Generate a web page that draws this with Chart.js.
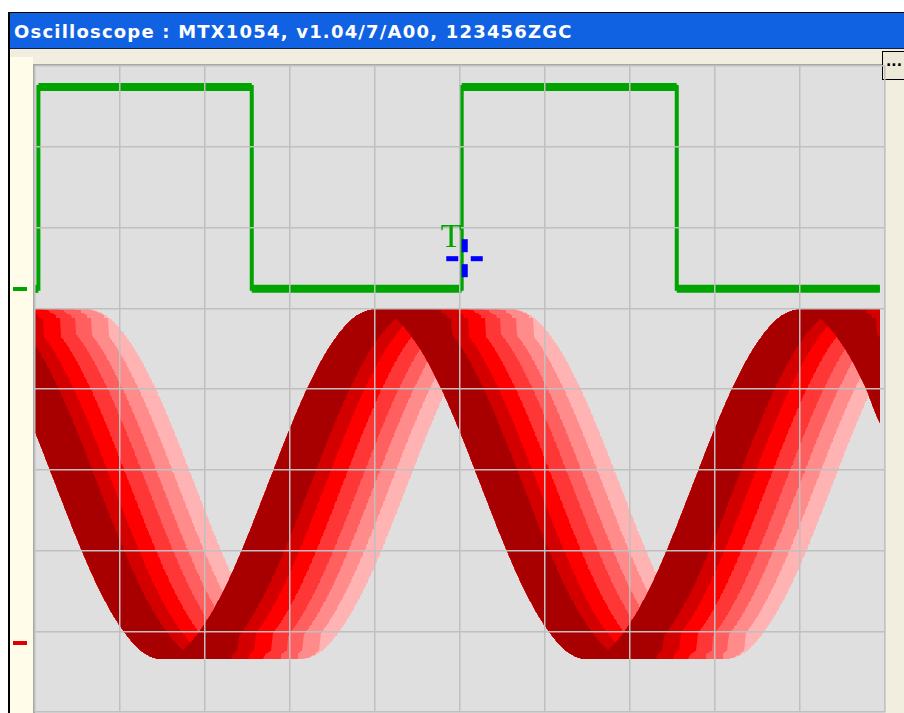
<!DOCTYPE html>
<html>
<head>
<meta charset="utf-8">
<script src="https://cdn.jsdelivr.net/npm/chart.js@4/dist/chart.umd.min.js"></script>
<style>
  body{margin:0;background:#fff;width:904px;height:713px;overflow:hidden;position:relative;}
  .abs{position:absolute;box-sizing:border-box;}
  #frame{left:8px;top:12px;width:896px;height:701px;background:#f1eedf;border-left:2px solid #000;border-top:1px solid #000;}
  #title{left:10px;top:13px;width:894px;height:36px;background:#1162e3;border-bottom:1px solid #102040;
    color:#fff;font:bold 18px "DejaVu Sans",sans-serif;letter-spacing:1.2px;line-height:37px;padding-left:4px;white-space:nowrap;}
  #strip{left:10px;top:57px;width:23px;height:656px;background:#fffcea;}
  #plot{left:33px;top:64px;width:853px;height:649px;background:#dfdfdf;border-top:2px solid #a6a6a6;border-left:2px solid #a6a6a6;}
  #btn{left:882px;top:51px;width:24px;height:29px;background:#ece9d8;border:1px solid #000;
    font:bold 14px "DejaVu Sans",sans-serif;line-height:18px;padding-left:3px;color:#000;}
  canvas{position:absolute;left:0;top:0;}
</style>
</head>
<body>
<div class="abs" id="frame"></div>
<div class="abs" id="title">Oscilloscope : MTX1054, v1.04/7/A00, 123456ZGC</div>
<div class="abs" id="strip"></div>
<div class="abs" id="plot"></div>
<div class="abs" id="btn">...</div>
<canvas id="scope" width="904" height="713"></canvas>
<script>
// ---------- data (time in divisions, volts in divisions) ----------
// CH2 sine, read every 0.25 div starting at t = -2
const sineStart = -2;
const sineStep = 0.25;
const sineVolts = [
  -0.51, 0.09, 0.56, 0.87, 0.98, 0.87, 0.56, 0.09,
  -0.51, -1.18, -1.85, -2.45, -2.92, -3.23, -3.34, -3.23,
  -2.92, -2.45, -1.85, -1.18, -0.51, 0.09, 0.56, 0.87,
  0.98, 0.87, 0.56, 0.09, -0.51, -1.18, -1.85, -2.45,
  -2.92, -3.23, -3.34, -3.23, -2.92, -2.45, -1.85, -1.18,
  -0.51, 0.09, 0.56, 0.87, 0.98, 0.87, 0.56, 0.09, -0.51
];
const sineEnd = 9.94;
// persistence: jitter range of each colour layer (div), newest/densest first
const layerShifts = [0, 0.49, 0.66, 0.87, 1.06, 1.24, 1.43, 1.62];
const layerWeights = [4096, 1024, 256, 64, 16, 4, 1];
const layerColors = ['#a80000', '#d40000', '#ff0000', '#ff3636', '#ff5f5f', '#ff8b8b', '#ffb3b3'];
const levelFactor = 2.5;   // hits of the next layer needed to reach a colour level

// CH1 square wave
const squareT = [0, 0.04, 0.04, 2.55, 2.55, 5.02, 5.02, 7.55, 7.55, 9.94];
const squareV = [1.24, 1.24, 3.74, 3.74, 1.24, 1.24, 3.74, 3.74, 1.24, 1.24];

// trigger + channel reference markers
const trigT = 5.05, trigV = 1.62;
const chRefs = [1.24, -3.15];
const chColors = ['#00a400', '#e00000'];

// ---------- helpers ----------
function sineAt(t){
  const u = (t - sineStart) / sineStep;
  const i = Math.floor(u); const s = u - i;
  const v = k => sineVolts[Math.max(0, Math.min(sineVolts.length-1, k))];
  const p0=v(i-1), p1=v(i), p2=v(i+1), p3=v(i+2);
  return 0.5*((2*p1)+(-p0+p2)*s+(2*p0-5*p1+4*p2-p3)*s*s+(-p0+3*p1-3*p2+p3)*s*s*s);
}

// accumulate hits of every jittered sweep on a screen-resolution grid
const colW = 1/85, rowH = 8/646;
const nCols = Math.round(sineEnd/colW) + 1, nRows = 646;
const hits = new Float32Array(nCols*nRows);
const nSweeps = Math.round(layerShifts[layerShifts.length-1]/colW);
for(let m = 0; m <= nSweeps; m++){
  const s = m*colW;
  let k = 0; while(k < layerWeights.length-1 && s > layerShifts[k+1] + 1e-9) k++;
  const w = layerWeights[k];
  for(let c = 0; c < nCols; c++){
    const x = c*colW;
    const a = sineAt(x - s - colW/2), b = sineAt(x - s + colW/2);
    const r0 = Math.floor((Math.min(a,b)+4)/rowH), r1 = Math.floor((Math.max(a,b)+4)/rowH);
    for(let r = Math.max(0,r0); r <= Math.min(nRows-1,r1); r++) hits[c*nRows+r] += w;
  }
}
function layerEnvelope(k){
  const thr = k < layerWeights.length-1 ? layerWeights[k+1]*levelFactor : layerWeights[k]*0.5;
  const up = [], lo = [];
  for(let c = 0; c < nCols; c++){
    let mn = -1, mx = -1;
    for(let r = 0; r < nRows; r++){
      if(hits[c*nRows+r] >= thr){ if(mn < 0) mn = r; mx = r; }
    }
    const x = +(c*colW).toFixed(4);
    up.push({x, y: mn < 0 ? null : -4 + (mx+1)*rowH});
    lo.push({x, y: mn < 0 ? null : -4 + mn*rowH});
  }
  return {up, lo};
}

const green = '#00a400';
const squarePts = squareT.map((t,i) => ({x: t, y: squareV[i]}));

const datasets = [
  { data: squarePts, borderColor: green, borderWidth: 4, pointRadius: 0, tension: 0, fill: false,
    borderJoinStyle: 'miter' },
  { data: squarePts, borderColor: green, borderWidth: 8, pointRadius: 0, tension: 0, fill: false,
    segment: { borderColor: c => c.p0.parsed.x === c.p1.parsed.x ? 'rgba(0,0,0,0)' : green } }
];
layerColors.forEach((col, k) => {
  const env = layerEnvelope(k);
  datasets.push({ data: env.up, borderWidth: 0, borderColor: 'rgba(0,0,0,0)', pointRadius: 0, fill: false });
  datasets.push({ data: env.lo, borderWidth: 0, borderColor: 'rgba(0,0,0,0)', pointRadius: 0,
    fill: '-1', backgroundColor: col });
});

const scopeDecor = {
  id: 'scopeDecor',
  afterDraw(chart){
    const {ctx, scales:{x, y}} = chart;
    ctx.save();
    chRefs.forEach((v, i) => {
      ctx.fillStyle = chColors[i];
      ctx.fillRect(13, Math.round(y.getPixelForValue(v)) - 2, 14, 4);
    });
    const cx = x.getPixelForValue(trigT), cy = y.getPixelForValue(trigV);
    ctx.fillStyle = '#0000ff';
    ctx.fillRect(cx - 2.5, cy - 19, 6, 13);
    ctx.fillRect(cx - 2.5, cy + 6, 6, 13);
    ctx.fillRect(cx - 18, cy - 2, 12, 5);
    ctx.fillRect(cx + 6.5, cy - 2, 12, 5);
    ctx.fillStyle = green;
    ctx.font = '34px "Liberation Serif", serif';
    ctx.textAlign = 'center';
    ctx.textBaseline = 'alphabetic';
    ctx.fillText('T', cx - 13, cy - 11);
    ctx.restore();
  }
};

const gridOpts = { color: '#c0c0c0', lineWidth: 1.5, drawTicks: false, z: 1 };

new Chart(document.getElementById('scope'), {
  type: 'line',
  data: { datasets },
  options: {
    responsive: false,
    animation: false,
    events: [],
    parsing: false,
    spanGaps: false,
    layout: { padding: { left: 35, top: 66, right: 19, bottom: 1 } },
    plugins: { legend: { display: false }, tooltip: { enabled: false } },
    scales: {
      x: { type: 'linear', min: 0, max: 10,
        ticks: { display: false, stepSize: 1 },
        grid: gridOpts,
        border: { display: false } },
      y: { type: 'linear', min: -4, max: 4,
        ticks: { display: false, stepSize: 1 },
        grid: gridOpts,
        border: { display: false } }
    }
  },
  plugins: [scopeDecor]
});
</script>
</body>
</html>
